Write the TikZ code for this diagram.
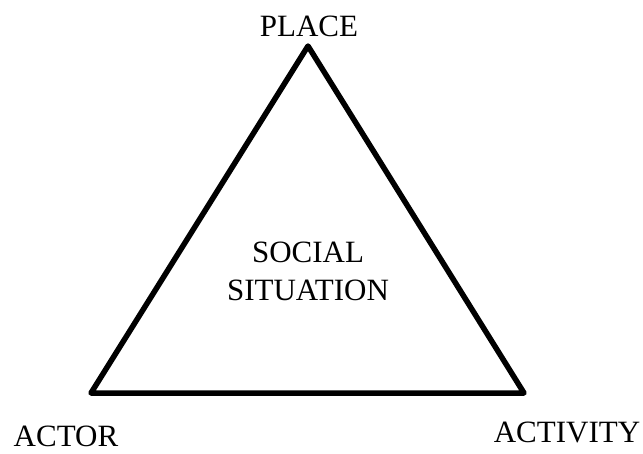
\documentclass[tikz,border=0pt]{standalone}
\usepackage{fontspec}
\setmainfont{Liberation Serif}
\begin{document}
\begin{tikzpicture}[x=1pt,y=-1pt,
  lbl/.style={anchor=base,inner sep=0pt,font=\fontsize{31}{37}\selectfont},
  edge/.style={line width=5.5pt,line join=round}]
\useasboundingbox (0,0) rectangle (643,453);
\coordinate (top) at (308,46);
\coordinate (bl) at (91,393);
\coordinate (br) at (524,393);
\draw[edge] (top) -- (bl) -- (br) -- cycle;
\node[lbl] (place) at (309,36) {PLACE};
\node[lbl] (actor) at (66,446) {ACTOR};
\node[lbl] (activity) at (567,442) {ACTIVITY};
\node[lbl] (social) at (308,262) {SOCIAL};
\node[lbl] (situation) at (308,300) {SITUATION};
\end{tikzpicture}
\end{document}
